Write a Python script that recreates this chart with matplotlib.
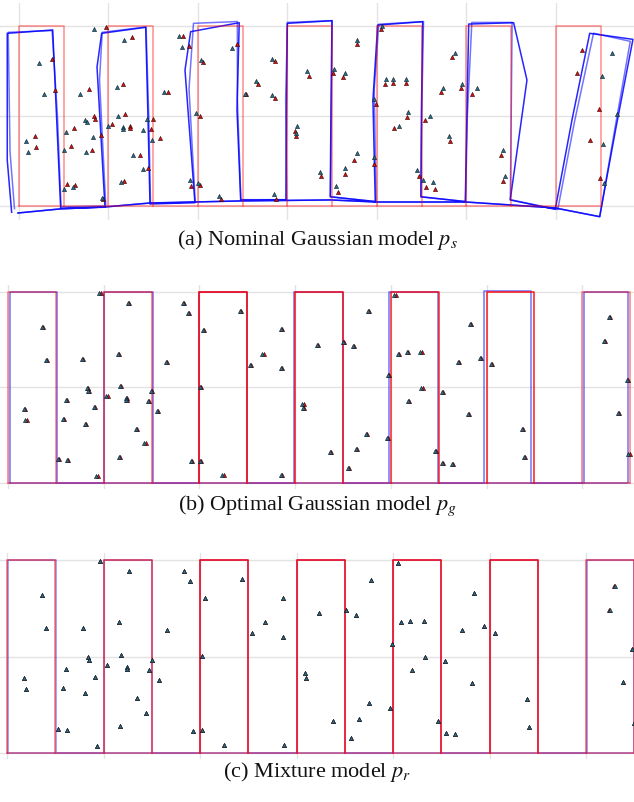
import matplotlib
matplotlib.use("Agg")
import matplotlib.pyplot as plt

plt.rcParams['font.family'] = ['Liberation Serif', 'DejaVu Serif']
plt.rcParams['mathtext.fontset'] = 'stix'

# ---------------- data ----------------
lane_left = [0, 1, 2, 3, 4, 5, 6]
lane_width = 0.5
lane_height = 2.0

captions = [r"(a) Nominal Gaussian model $p_s$",
            r"(b) Optimal Gaussian model $p_g$",
            r"(c) Mixture model $p_r$"]

# true landmark positions
lm_x = [0.366, 0.404, 0.176, 0.193, 0.532, 0.625, 0.615, 0.584, 0.788, 0.836,
        0.846, 0.912, 0.812, 0.936, 0.967, 1.261, 1.161, 1.181, 1.040, 1.244,
        1.240, 1.475, 1.503, 1.572, 1.347, 1.437, 1.174, 1.837, 1.896, 1.661,
        1.924, 2.018, 2.052, 2.021, 2.252, 2.435, 2.539, 2.670, 2.863, 2.860,
        2.867, 3.088, 3.095, 3.236, 3.513, 3.617, 3.772, 3.378, 3.748, 3.648,
        3.561, 3.969, 3.986, 4.049, 4.086, 4.176, 4.321, 4.332, 4.194, 4.470,
        4.542, 4.549, 4.646, 4.836, 4.715, 4.940, 4.815, 5.057, 5.385, 5.406,
        6.287, 6.235, 6.477, 6.383, 6.494]
lm_y = [1.637, 1.292, 0.774, 0.660, 0.249, 0.238, 0.867, 0.670, 1.299, 0.998,
        0.964, 0.791, 0.619, 0.073, 1.990, 1.883, 1.354, 1.019, 0.915, 0.892,
        0.868, 0.860, 0.964, 0.756, 0.570, 0.418, 0.277, 1.889, 1.779, 1.271,
        0.225, 0.235, 1.603, 1.005, 0.080, 1.800, 1.240, 1.354, 1.610, 1.199,
        0.080, 0.832, 0.780, 1.448, 1.479, 1.430, 1.796, 0.328, 0.515, 0.356,
        0.159, 0.470, 1.133, 1.966, 1.354, 1.368, 1.368, 0.992, 0.863, 0.335,
        0.953, 0.210, 0.194, 1.661, 1.271, 1.313, 0.725, 1.247, 0.563, 0.273,
        1.734, 1.482, 1.075, 0.733, 0.308]

# panel (a): estimated landmark displacement from truth
est_a_dx = [-0.140, -0.120, -0.093, -0.097, -0.034, -0.022, -0.086, -0.086, -0.108, -0.100,
            -0.082, -0.089, -0.060, -0.011, -0.134, -0.082, -0.071, -0.078, -0.045, -0.082,
            -0.082, -0.086, -0.067, -0.082, -0.071, -0.048, -0.030, -0.052, -0.074, -0.041,
            -0.011, -0.015, -0.022, -0.045, -0.022, -0.060, -0.019, -0.022, -0.041, -0.034,
            -0.022, 0.015, 0.000, -0.015, 0.007, 0.030, 0.000, -0.011, 0.034, -0.007,
            -0.019, 0.000, -0.015, 0.011, 0.015, 0.000, 0.000, 0.019, 0.056, -0.022,
            0.052, -0.030, -0.022, 0.034, 0.022, 0.007, -0.015, 0.056, 0.022, 0.022,
            0.339, 0.283, 0.209, 0.142, 0.045]
est_a_dy = [-0.048, -0.052, -0.056, -0.056, -0.063, -0.026, -0.041, -0.048, -0.059, -0.048,
            -0.026, -0.019, -0.022, 0.015, -0.019, -0.037, -0.037, -0.019, -0.026, -0.011,
            -0.015, -0.011, 0.000, -0.019, 0.000, -0.007, -0.011, 0.000, -0.007, 0.000,
            0.059, 0.019, 0.019, 0.026, 0.030, -0.048, 0.007, 0.033, 0.026, 0.030,
            0.052, 0.056, 0.033, 0.056, 0.048, 0.044, 0.044, 0.052, 0.078, 0.063,
            0.063, 0.074, 0.056, 0.037, 0.052, 0.044, 0.044, 0.052, 0.022, 0.063,
            0.044, 0.081, 0.070, 0.044, 0.044, 0.041, 0.052, 0.059, 0.059, 0.056,
            -0.033, -0.037, -0.052, -0.048, -0.048]

# panel (a): estimated trajectory, per lane: bottom-left, mid-left, top-left,
# top-right, mid-right, bottom-right (two laps)
est_a_lap1_x = [[-0.082, -0.131, -0.131, 0.377, 0.421, 0.466],
                [0.961, 0.872, 0.924, 1.416, 1.441, 1.464],
                [1.966, 1.855, 1.918, 2.461, 2.436, 2.477],
                [2.983, 2.989, 2.998, 3.497, 3.486, 3.478],
                [3.981, 3.955, 4.008, 4.511, 4.497, 4.492],
                [4.987, 5.006, 5.025, 5.527, 5.676, 5.489],
                [5.992, 6.179, 6.377, 6.860, 6.670, 6.488]]
est_a_lap1_y = [[-0.070, 0.511, 1.919, 1.956, 0.967, -0.026],
                [-0.014, 1.544, 1.919, 1.986, 1.000, 0.022],
                [0.037, 1.511, 1.937, 2.037, 1.067, 0.067],
                [0.067, 1.067, 2.030, 2.059, 1.067, 0.103],
                [0.048, 1.178, 2.011, 2.048, 1.067, 0.103],
                [0.048, 1.067, 2.022, 2.037, 1.400, 0.067],
                [-0.037, 0.956, 1.919, 1.852, 0.867, -0.119]]
est_a_lap2_x = [[-0.050, -0.100, -0.120, 0.370, 0.430, 0.470],
                [0.970, 0.900, 0.930, 1.420, 1.450, 1.470],
                [1.970, 1.900, 1.950, 2.440, 2.440, 2.480],
                [2.990, 2.980, 3.000, 3.500, 3.490, 3.480],
                [3.990, 3.970, 4.020, 4.520, 4.500, 4.490],
                [4.990, 5.010, 5.060, 5.510, 5.500, 5.490],
                [6.020, 6.210, 6.420, 6.830, 6.660, 6.490]]
est_a_lap2_y = [[-0.030, 0.600, 1.930, 1.950, 1.000, -0.010],
                [0.000, 1.400, 1.930, 1.990, 1.000, 0.030],
                [0.040, 1.300, 2.030, 2.050, 1.200, 0.070],
                [0.070, 1.200, 2.040, 2.060, 1.000, 0.100],
                [0.050, 1.300, 2.020, 2.050, 1.000, 0.100],
                [0.050, 1.000, 2.040, 2.040, 1.000, 0.070],
                [-0.040, 0.950, 1.920, 1.830, 0.870, -0.120]]
# panel (a): estimated return path along the bottom
est_a_return_x = [6.488, 5.989, 4.994, 3.989, 3.486, 2.481, 1.464, 0.961, 0.458, -0.011]
est_a_return_y = [-0.119, -0.022, 0.044, 0.044, 0.067, 0.056, 0.033, -0.011, -0.033, -0.078]

# panels (b), (c): estimated lane edges
est_b_left = [0.018, 1.000, 2.000, 2.993, 3.980, 4.972, 6.015]
est_b_right = [0.510, 1.512, 2.500, 3.500, 4.488, 5.460, 6.483]
est_b_top = [2.000, 2.000, 2.000, 2.000, 2.000, 2.015, 2.000]
est_c_left = [0.005, 1.000, 2.000, 3.000, 4.000, 5.000, 6.015]
est_c_right = [0.505, 1.500, 2.500, 3.500, 4.500, 5.500, 6.500]
est_c_top = [2.000, 2.000, 2.000, 2.000, 2.000, 2.000, 2.005]
est_b_lm_dx = -0.012
est_c_lm_dx = [0.0] * 70 + [0.015, 0.012, 0.0, 0.0, 0.0]

# style per panel: opacity of ground-truth outline per lane, estimate opacity
truth_alpha = [[0.45] * 7,
               [0.5, 0.6, 1.0, 0.9, 0.85, 0.9, 0.5],
               [0.55, 0.65, 0.95, 0.95, 0.95, 0.95, 0.6]]
est_alpha = [0.85, 0.55, 0.45]

# axes placement (figure pixels) and data ranges
fig_w, fig_h = 634, 802
ax_px = [(3, 220), (285, 489), (553, 759)]
xlims = [(-0.212, 6.872), (-0.084, 6.541), (-0.073, 6.497)]
ylims = [(-0.156, 2.256), (-0.063, 2.073), (-0.062, 2.073)]
caption_y = [240, 506, 772]

TRUTH_C = '#ff0000'
EST_C = '#0000ff'
LM_TRUE_C = '#d81010'
LM_EST_C = '#2a6e8c'

fig = plt.figure(figsize=(fig_w / 100, fig_h / 100), dpi=100)


def lane_path(lefts, rights, tops, bottoms):
    xs, ys = [], []
    for l, r, t, b in zip(lefts, rights, tops, bottoms):
        xs += [l, l, r, r]
        ys += [b, t, t, b]
    xs += [lefts[0]]
    ys += [bottoms[0]]
    return xs, ys


for p in range(3):
    top_px, bot_px = ax_px[p]
    ax = fig.add_axes([0, 1 - bot_px / fig_h, 1, (bot_px - top_px) / fig_h])
    ax.set_xlim(*xlims[p])
    ax.set_ylim(*ylims[p])
    ax.set_xticks(range(0, 7))
    ax.set_yticks([0, 1, 2])
    ax.grid(True, color='#e3e3e3', lw=1.0)
    ax.tick_params(length=0, labelbottom=False, labelleft=False)
    for s in ax.spines.values():
        s.set_visible(False)
    ax.set_axisbelow(True)

    # estimated trajectory
    if p == 0:
        for lx, ly, a in ((est_a_lap1_x, est_a_lap1_y, 0.85), (est_a_lap2_x, est_a_lap2_y, 0.55)):
            xs, ys = [], []
            for seg_x, seg_y in zip(lx, ly):
                xs += seg_x
                ys += seg_y
            xs += est_a_return_x
            ys += est_a_return_y
            ax.plot(xs, ys, color=EST_C, lw=1.1, alpha=a, zorder=2)
    else:
        el = est_b_left if p == 1 else est_c_left
        er = est_b_right if p == 1 else est_c_right
        et = est_b_top if p == 1 else est_c_top
        xs, ys = lane_path(el, er, et, [0.0] * 7)
        ax.plot(xs, ys, color=EST_C, lw=1.1, alpha=est_alpha[p], zorder=2)

    # ground truth lanes
    for k, l in enumerate(lane_left):
        r = l + lane_width
        ax.plot([l, l, r, r], [0, lane_height, lane_height, 0],
                color=TRUTH_C, lw=1.1, alpha=truth_alpha[p][k], zorder=3)
    ax.plot([lane_left[0], lane_left[-1] + lane_width], [0, 0],
            color=TRUTH_C, lw=1.1, alpha=0.45, zorder=3)

    # landmarks
    ax.plot(lm_x, lm_y, linestyle='none', marker='^', ms=3.0, color=LM_TRUE_C,
            mec='#300000', mew=0.4, zorder=4)
    if p == 0:
        ex = [x + d for x, d in zip(lm_x, est_a_dx)]
        ey = [y + d for y, d in zip(lm_y, est_a_dy)]
    elif p == 1:
        ex = [x + est_b_lm_dx for x in lm_x]
        ey = lm_y
    else:
        ex = [x + d for x, d in zip(lm_x, est_c_lm_dx)]
        ey = lm_y
    ax.plot(ex, ey, linestyle='none', marker='^', ms=3.0, color=LM_EST_C,
            mec='#0a1a22', mew=0.4, zorder=5)

    fig.text(0.5, 1 - caption_y[p] / fig_h, captions[p], ha='center', va='center',
             fontsize=16, color='#111111')

fig.savefig('out.png', dpi=100)
